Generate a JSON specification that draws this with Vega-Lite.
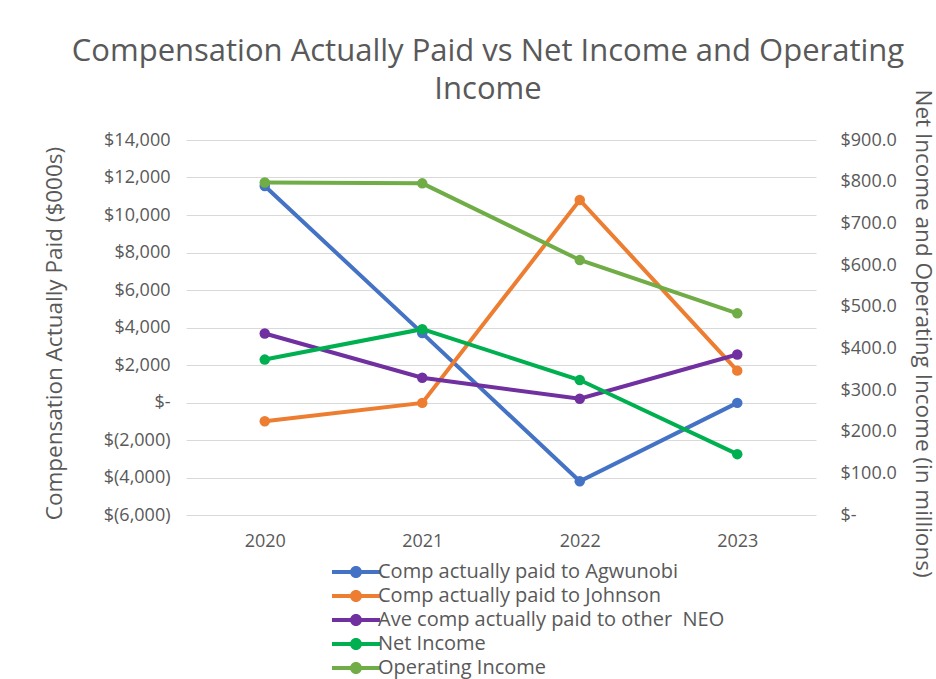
{
  "$schema": "https://vega.github.io/schema/vega-lite/v6.json",
  "width": 630,
  "height": 375,
  "autosize": {"type": "none"},
  "padding": {"left": 186, "top": 140, "right": 120, "bottom": 164},
  "background": "white",
  "config": {
    "font": "Open Sans",
    "view": {"stroke": null}
  },
  "title": {
    "text": ["Compensation Actually Paid vs Net Income and Operating", "Income"],
    "fontSize": 31,
    "font": "Open Sans",
    "fontWeight": "normal",
    "color": "#595959",
    "anchor": "middle",
    "dx": -13,
    "offset": -17,
    "lineHeight": 38
  },
  "data": {
    "values": [
      {"year": "2020", "series": "Comp actually paid to Agwunobi", "axis": "left", "value": 11550},
      {"year": "2021", "series": "Comp actually paid to Agwunobi", "axis": "left", "value": 3700},
      {"year": "2022", "series": "Comp actually paid to Agwunobi", "axis": "left", "value": -4200},
      {"year": "2023", "series": "Comp actually paid to Agwunobi", "axis": "left", "value": -20},
      {"year": "2020", "series": "Comp actually paid to Johnson", "axis": "left", "value": -1000},
      {"year": "2021", "series": "Comp actually paid to Johnson", "axis": "left", "value": -20},
      {"year": "2022", "series": "Comp actually paid to Johnson", "axis": "left", "value": 10800},
      {"year": "2023", "series": "Comp actually paid to Johnson", "axis": "left", "value": 1700},
      {"year": "2020", "series": "Ave comp actually paid to other \u00a0NEO", "axis": "left", "value": 3680},
      {"year": "2021", "series": "Ave comp actually paid to other \u00a0NEO", "axis": "left", "value": 1320},
      {"year": "2022", "series": "Ave comp actually paid to other \u00a0NEO", "axis": "left", "value": 200},
      {"year": "2023", "series": "Ave comp actually paid to other \u00a0NEO", "axis": "left", "value": 2560},
      {"year": "2020", "series": "Net Income", "axis": "right", "value": 373},
      {"year": "2021", "series": "Net Income", "axis": "right", "value": 446},
      {"year": "2022", "series": "Net Income", "axis": "right", "value": 324},
      {"year": "2023", "series": "Net Income", "axis": "right", "value": 146},
      {"year": "2020", "series": "Operating Income", "axis": "right", "value": 798},
      {"year": "2021", "series": "Operating Income", "axis": "right", "value": 796},
      {"year": "2022", "series": "Operating Income", "axis": "right", "value": 612},
      {"year": "2023", "series": "Operating Income", "axis": "right", "value": 484}
    ]
  },
  "encoding": {
    "x": {
      "field": "year",
      "type": "ordinal",
      "scale": {"type": "point", "padding": 0.5},
      "axis": {
        "title": null,
        "labelAngle": 0,
        "labelFontSize": 18,
        "labelColor": "#595959",
        "labelPadding": 17,
        "domain": false,
        "ticks": false,
        "grid": false
      }
    },
    "color": {
      "field": "series",
      "type": "nominal",
      "scale": {
        "domain": ["Comp actually paid to Agwunobi", "Comp actually paid to Johnson", "Ave comp actually paid to other \u00a0NEO", "Net Income", "Operating Income"],
        "range": ["#4472C4", "#ED7D31", "#7030A0", "#00B050", "#70AD47"]
      },
      "legend": {
        "title": null,
        "orient": "none",
        "legendX": 142,
        "legendY": 422,
        "direction": "vertical",
        "symbolType": "M-1,-0.33H2.1V0.33H-1Z M3.9,-0.33H7V0.33H3.9Z M4,0A1,1 0 1,1 2,0A1,1 0 1,1 4,0Z",
        "symbolSize": 144,
        "symbolStrokeWidth": 0,
        "labelOffset": 30,
        "labelFontSize": 20,
        "labelColor": "#595959",
        "labelLimit": 600,
        "rowPadding": 4,
        "encoding": {
          "symbols": {
            "update": {
              "fill": {"scale": "color", "field": "value"},
              "fillOpacity": {"value": 1},
              "strokeWidth": {"value": 0}
            }
          }
        }
      }
    }
  },
  "layer": [
    {
      "transform": [{"filter": "datum.axis == 'left'"}],
      "encoding": {
        "y": {
          "field": "value",
          "type": "quantitative",
          "scale": {"domain": [-6000, 14000], "nice": false, "zero": false},
          "axis": {
            "title": "Compensation Actually Paid ($000s)",
            "titleFontSize": 22.5,
            "titleFontWeight": "normal",
            "titleColor": "#595959",
            "titlePadding": 37,
            "titleY": 193,
            "values": [-6000, -4000, -2000, 0, 2000, 4000, 6000, 8000, 10000, 12000, 14000],
            "labelExpr": "datum.value == 0 ? '$-\u00a0\u00a0\u00a0' : (datum.value < 0 ? '$(' + format(-datum.value, ',') + ')' : '$' + format(datum.value, ',') + '\u00a0')",
            "labelFontSize": 18,
            "labelColor": "#595959",
            "labelPadding": 16,
            "domain": false,
            "ticks": false,
            "grid": true,
            "gridColor": "#d9d9d9",
            "gridWidth": 1
          }
        }
      },
      "layer": [
        {"mark": {"type": "line", "strokeWidth": 4}},
        {"mark": {"type": "point", "filled": true, "size": 110, "opacity": 1}}
      ]
    },
    {
      "transform": [{"filter": "datum.axis == 'right'"}],
      "encoding": {
        "y": {
          "field": "value",
          "type": "quantitative",
          "scale": {"domain": [0, 900], "nice": false},
          "axis": {
            "orient": "right",
            "title": "Net Income and Operating Income (in millions)",
            "titleFontSize": 22.5,
            "titleFontWeight": "normal",
            "titleColor": "#595959",
            "titlePadding": 14,
            "titleY": 193,
            "values": [0, 100, 200, 300, 400, 500, 600, 700, 800, 900],
            "labelExpr": "datum.value == 0 ? '$-' : '$' + format(datum.value, '.1f')",
            "labelFontSize": 18,
            "labelColor": "#595959",
            "labelPadding": 24,
            "domain": false,
            "ticks": false,
            "grid": false
          }
        }
      },
      "layer": [
        {"mark": {"type": "line", "strokeWidth": 4}},
        {"mark": {"type": "point", "filled": true, "size": 110, "opacity": 1}}
      ]
    }
  ],
  "resolve": {"scale": {"y": "independent"}}
}
